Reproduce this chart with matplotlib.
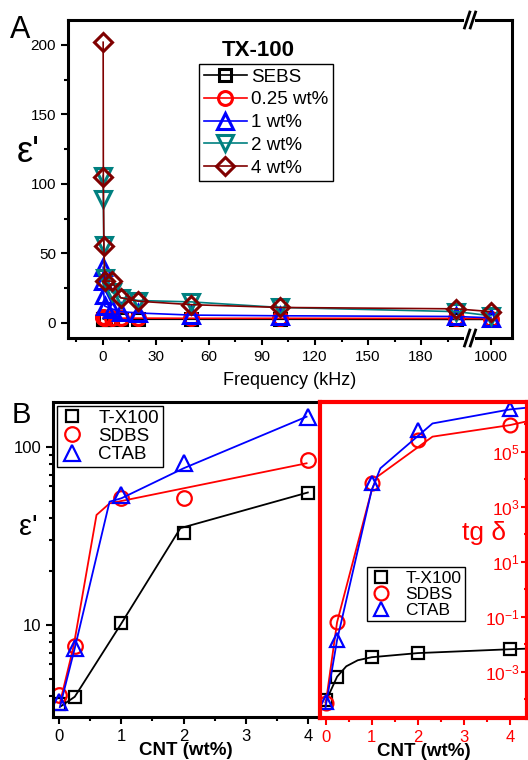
import numpy as np
import matplotlib
matplotlib.use("Agg")
import matplotlib.pyplot as plt
from matplotlib.ticker import FixedLocator, FixedFormatter, NullFormatter

plt.rcParams['font.family'] = ['Liberation Sans', 'DejaVu Sans']
plt.rcParams['mathtext.fontset'] = 'custom'
plt.rcParams['mathtext.rm'] = 'Liberation Sans'
plt.rcParams['mathtext.it'] = 'Liberation Sans:italic'
plt.rcParams['mathtext.bf'] = 'Liberation Sans:bold'

# ---- panel A data: dielectric constant vs frequency (TX-100)
freq = [0.1, 0.2, 0.5, 1, 5, 10, 20, 50, 100, 200, 1000]
eps_sebs = [2.8, 2.7, 2.7, 2.6, 2.6, 2.5, 2.5, 2.5, 2.5, 2.4, 2.4]
eps_025 = [4.0, 3.8, 3.6, 3.5, 3.4, 3.3, 3.3, 3.2, 3.2, 3.1, 3.0]
eps_1 = [40, 30, 20, 12, 10, 8, 7, 5.5, 5, 4.5, 3.5]
eps_2 = [106, 89, 56, 32, 22, 18, 16, 15, 11, 8, 5]
eps_4 = [202, 105, 55, 30, 30, 18, 15.5, 13, 11, 10, 8]
labels_A = ['SEBS', '0.25 wt%', '1 wt%', '2 wt%', '4 wt%']
xticks_A = [0, 30, 60, 90, 120, 150, 180, 1000]

# ---- panel B data: vs CNT loading
cnt = [0, 0.25, 1, 2, 4]
epsB_tx = [3.6, 3.95, 10.2, 32.9, 55]
epsB_sdbs = [4.05, 7.6, 51.6, 52, 84.5]
epsB_ctab = [3.7, 7.4, 53.8, 81, 148]
# guide lines as drawn in the figure
fitB_tx_x = [0.03, 0.25, 1, 1.95, 4]
fitB_tx_y = [3.5, 3.95, 10.2, 35, 55.5]
fitB_sdbs_x = [0.01, 0.23, 0.6, 0.81, 3.98]
fitB_sdbs_y = [3.63, 7.55, 41.5, 48.2, 81]
fitB_ctab_x = [0.01, 0.25, 0.81, 1.0, 2.0, 3.98]
fitB_ctab_y = [3.45, 7.4, 49.3, 51.5, 75.9, 148]

# log10 of tan delta
tg_tx = [-4.03, -3.18, -2.47, -2.32, -2.18]
tg_sdbs = [-4.14, -1.19, 3.87, 5.43, 5.97]
tg_ctab = [-4.1, -1.85, 3.86, 5.81, 6.54]
fitT_tx_x = [0, 0.25, 0.45, 0.7, 1, 2, 4, 4.35]
fitT_tx_y = [-4.1, -3.18, -2.8, -2.58, -2.47, -2.32, -2.18, -2.16]
fitT_sdbs_x = [0, 0.25, 1.0, 1.12, 2.32, 4.0, 4.35]
fitT_sdbs_y = [-4.2, -1.2, 3.6, 4.09, 5.55, 5.97, 6.1]
fitT_ctab_x = [0, 0.25, 1.0, 1.19, 2.32, 4.0, 4.35]
fitT_ctab_y = [-4.3, -1.85, 3.6, 4.4, 6.03, 6.54, 6.6]
labels_B = ['T-X100', 'SDBS', 'CTAB']

fig = plt.figure(figsize=(5.28, 7.6), dpi=100)

# ---------------- panel A ----------------
k = 13.6 / 794.0
def fwd(x):
    x = np.asarray(x, dtype=float)
    return np.where(x <= 206, x, 206 + (x - 206) * k)
def inv(y):
    y = np.asarray(y, dtype=float)
    return np.where(y <= 206, y, 206 + (y - 206) / k)

axA = fig.add_axes([68/528, 1-338/760, 444/528, 318/760])
axA.set_xscale('function', functions=(fwd, inv))
colsA = ['black', 'red', 'blue', '#008080', '#800000']
marksA = ['s', 'o', '^', 'v', 'D']
sizesA = [9, 10, 11, 11, 9.5]
seriesA = [eps_sebs, eps_025, eps_1, eps_2, eps_4]
for ys, c, m, ms, lab in zip(seriesA, colsA, marksA, sizesA, labels_A):
    axA.plot(freq, ys, color=c, marker=m, ms=ms, mfc='none', mew=2.2, lw=1.2, label=lab)
axA.set_xlim(-19.8, float(inv(231.5)))
axA.set_ylim(-11, 218)
axA.xaxis.set_major_locator(FixedLocator(xticks_A))
axA.xaxis.set_major_formatter(FixedFormatter([str(t) for t in xticks_A]))
axA.xaxis.set_minor_locator(FixedLocator([-15, 15, 45, 75, 105, 135, 165, 195]))
axA.xaxis.set_minor_formatter(NullFormatter())
axA.set_yticks([0, 50, 100, 150, 200])
axA.yaxis.set_minor_locator(FixedLocator([25, 75, 125, 175]))
axA.tick_params(which='both', direction='out', width=1.5, labelsize=11, top=False, right=False)
axA.tick_params(which='major', length=5)
axA.tick_params(which='minor', length=3)
for s in axA.spines.values():
    s.set_linewidth(2.2)
axA.set_xlabel('Frequency (kHz)', fontsize=13, labelpad=6)
axA.text(0.428, 0.905, 'TX-100', transform=axA.transAxes, fontsize=16,
         fontweight='bold', ha='center', va='center')
legA = axA.legend(loc='upper left', bbox_to_anchor=(0.295, 0.862), fontsize=13.5,
                  handlelength=2.3, handletextpad=0.25, labelspacing=0.3,
                  borderpad=0.25, borderaxespad=0, fancybox=False, framealpha=1)
legA.get_frame().set_edgecolor('black')
legA.get_frame().set_linewidth(1.0)
# axis break marks
xb0, xb1 = 0.893, 0.917
for yb in (0, 1):
    axA.plot([xb0, xb1], [yb, yb], color='white', lw=4, transform=axA.transAxes,
             clip_on=False, zorder=10, solid_capstyle='butt')
    for dx in (0.0, 0.013):
        axA.plot([xb0 + dx, xb0 + dx + 0.012], [yb - 0.025, yb + 0.025], color='black',
                 lw=2.0, transform=axA.transAxes, clip_on=False, zorder=11)

fig.text(10/528, 1-30/760, 'A', fontsize=22, ha='left', va='center')
fig.text(28/528, 1-152/760, "ε'", fontsize=26, ha='center', va='center')

# ---------------- panel B left ----------------
axB = fig.add_axes([53/528, 1-717/760, 266/528, 315/760])
colsB = ['black', 'red', 'blue']
marksB = ['s', 'o', '^']
sizesB = [8.5, 10.5, 11]
for ys, fx, fy, c, m, ms, lab in zip([epsB_tx, epsB_sdbs, epsB_ctab],
                                     [fitB_tx_x, fitB_sdbs_x, fitB_ctab_x],
                                     [fitB_tx_y, fitB_sdbs_y, fitB_ctab_y],
                                     colsB, marksB, sizesB, labels_B):
    axB.plot(fx, fy, color=c, lw=1.3)
    axB.plot(cnt, ys, ls='none', color=c, marker=m, ms=ms, mfc='none', mew=1.6, label=lab)
axB.set_yscale('log')
axB.set_xlim(-0.1, 4.18)
axB.set_ylim(3.04, 179)
axB.set_xticks([0, 1, 2, 3, 4])
axB.xaxis.set_minor_locator(FixedLocator([0.5, 1.5, 2.5, 3.5]))
axB.yaxis.set_major_locator(FixedLocator([10, 100]))
axB.yaxis.set_major_formatter(FixedFormatter(['10', '100']))
axB.yaxis.set_minor_formatter(NullFormatter())
axB.tick_params(which='both', direction='out', width=1.5, labelsize=12, top=False, right=False)
axB.tick_params(which='major', length=5)
axB.tick_params(which='minor', length=3)
for s in axB.spines.values():
    s.set_linewidth(2.2)
axB.spines['right'].set_visible(False)
axB.set_xlabel('CNT (wt%)', fontsize=13.5, fontweight='bold', labelpad=-1)
legB = axB.legend(loc='upper left', bbox_to_anchor=(0.015, 0.987), fontsize=13.5,
                  handlelength=1.2, handletextpad=0.8, labelspacing=0.05,
                  borderpad=0.2, borderaxespad=0, fancybox=False, framealpha=1)
legB.get_frame().set_edgecolor('black')
legB.get_frame().set_linewidth(1.0)

fig.text(12/528, 1-415/760, 'B', fontsize=21, ha='left', va='center')
fig.text(28/528, 1-527/760, "ε'", fontsize=21, ha='center', va='center')

# ---------------- panel B right (tan delta) ----------------
axT = fig.add_axes([320/528, 1-718/760, 207/528, 316/760])
for ys, fx, fy, c, m, ms, lab in zip([tg_tx, tg_sdbs, tg_ctab],
                                     [fitT_tx_x, fitT_sdbs_x, fitT_ctab_x],
                                     [fitT_tx_y, fitT_sdbs_y, fitT_ctab_y],
                                     colsB, marksB, [8.5, 10, 10.5], labels_B):
    axT.plot(fx, 10.0 ** np.array(fy), color=c, lw=1.3)
    axT.plot(cnt, 10.0 ** np.array(ys), ls='none', color=c, marker=m, ms=ms,
             mfc='none', mew=1.6, label=lab)
axT.set_yscale('log')
axT.set_xlim(-0.12, 4.37)
axT.set_ylim(10 ** -4.68, 10 ** 6.81)
axT.set_xticks([0, 1, 2, 3, 4])
axT.xaxis.set_minor_locator(FixedLocator([0.5, 1.5, 2.5, 3.5]))
axT.yaxis.tick_right()
axT.yaxis.set_major_locator(FixedLocator([1e-3, 1e-1, 1e1, 1e3, 1e5]))
axT.yaxis.set_major_formatter(FixedFormatter(['$10^{-3}$', '$10^{-1}$', '$10^{1}$',
                                              '$10^{3}$', '$10^{5}$']))
axT.yaxis.set_minor_locator(FixedLocator([1e-4, 1e-2, 1e0, 1e2, 1e4, 1e6]))
axT.yaxis.set_minor_formatter(NullFormatter())
axT.tick_params(axis='x', which='both', direction='out', colors='red', width=1.5, labelsize=12)
axT.tick_params(axis='x', which='major', length=5)
axT.tick_params(axis='x', which='minor', length=3)
axT.tick_params(axis='y', which='both', direction='in', colors='red', width=1.5,
                labelsize=12.5, pad=-5, left=False)
axT.tick_params(axis='y', which='major', length=4)
axT.tick_params(axis='y', which='minor', length=2)
for lab in axT.get_yticklabels():
    lab.set_ha('right')
for s in axT.spines.values():
    s.set_linewidth(3)
    s.set_color('red')
axT.set_xlabel('CNT (wt%)', fontsize=13.5, fontweight='bold', labelpad=-1)
axT.text(0.79, 0.585, 'tg δ', transform=axT.transAxes, color='red', fontsize=19,
         ha='center', va='center')
legT = axT.legend(loc='upper left', bbox_to_anchor=(0.227, 0.478), fontsize=12.5,
                  handlelength=1.2, handletextpad=0.8, labelspacing=0.05,
                  borderpad=0.2, borderaxespad=0, fancybox=False, framealpha=1)
legT.get_frame().set_edgecolor('black')
legT.get_frame().set_linewidth(1.0)

fig.savefig('out.png', dpi=100)
